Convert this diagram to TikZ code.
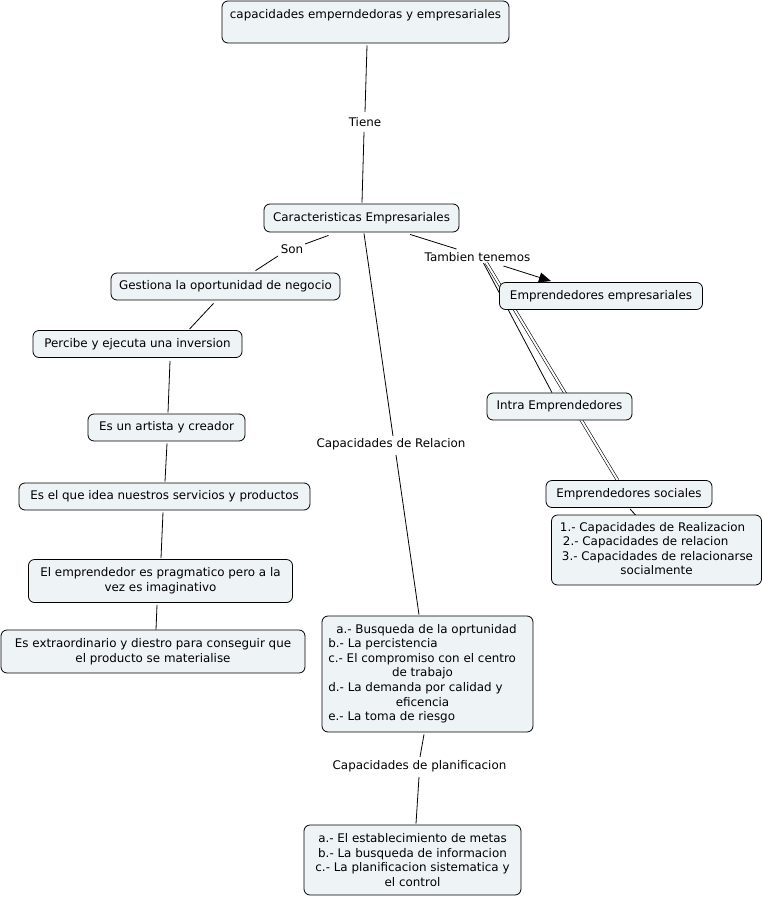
\documentclass[tikz,border=0pt]{standalone}
\usepackage{fontspec}
\setmainfont{DejaVu Sans}
\usetikzlibrary{calc,arrows.meta,backgrounds}
\definecolor{boxfill}{RGB}{238,243,246}
\tikzset{
  box/.style={draw=black, line width=0.8pt, fill=boxfill, rounded corners=6pt, inner sep=0pt, align=center,
     font=\fontsize{11.9}{14.6}\selectfont},
  lbl/.style={inner sep=0pt, font=\fontsize{11.9}{14.6}\selectfont},
  conn/.style={draw=black, line width=0.8pt},
  dbl/.style={draw=black, line width=0.6pt, double=white, double distance=2pt},
  arr/.style={conn, -{Triangle[length=12pt,width=10pt]}}
}
\begin{document}
\begin{tikzpicture}[x=1pt,y=-1pt]
\useasboundingbox (0,0) rectangle (763,897);
% boxes
\node[box, minimum width=287, minimum height=42] (top) at (365.5,22) {\strut capacidades emperndedoras y empresariales\\[-2pt] \strut};
\node[box, minimum width=195, minimum height=28] (caract) at (361.5,218) {Caracteristicas Empresariales};
\node[box, minimum width=229, minimum height=27] (gest) at (225.5,286.5) {Gestiona la oportunidad de negocio};
\node[box, minimum width=209, minimum height=27] (perc) at (137.5,344) {Percibe y ejecuta una inversion};
\node[box, minimum width=157, minimum height=27] (art) at (166.5,427.5) {Es un artista y creador};
\node[box, minimum width=291, minimum height=27] (idea) at (164.5,496.5) {Es el que idea nuestros servicios y productos};
\node[box, minimum width=264, minimum height=43] (emp) at (160.5,581) {El emprendedor es pragmatico pero a la\\vez es imaginativo};
\node[box, minimum width=304, minimum height=43] (extra) at (153,651.5) {Es extraordinario y diestro para conseguir que\\el producto se materialise};
\node[box, minimum width=211, minimum height=116] (busq) at (427.5,674) {%
  \begin{tabular}{@{}l@{}}
  \hspace{8pt}a.- Busqueda de la oprtunidad\\
  b.- La percistencia\\
  c.- El compromiso con el centro\\
  \multicolumn{1}{@{}c@{}}{de trabajo}\\
  d.- La demanda por calidad y\\
  \multicolumn{1}{@{}c@{}}{eficencia}\\
  e.- La toma de riesgo
  \end{tabular}\hspace*{10pt}};
\node[box, minimum width=217, minimum height=70] (metas) at (412.5,860) {a.- El establecimiento de metas\\b.- La busqueda de informacion\\c.- La planificacion sistematica y\\el control};
\node[box, minimum width=203, minimum height=27] (empemp) at (601,296) {Emprendedores empresariales};
\node[box, minimum width=145, minimum height=27] (intra) at (559.5,406.5) {Intra Emprendedores};
\node[box, minimum width=166, minimum height=27] (soc) at (629,494) {Emprendedores sociales};
\node[box, minimum width=210, minimum height=70] (list) at (656.5,550) {%
  \begin{tabular}{@{}l@{}}
  1.- Capacidades de Realizacion\\
  \hspace{3pt}2.- Capacidades de relacion\\
  \hspace{2pt}3.- Capacidades de relacionarse\\
  \multicolumn{1}{@{}c@{}}{socialmente}
  \end{tabular}};
% labels
\node[lbl] (tiene) at (365,122) {Tiene};
\node[lbl] (son) at (292,249.5) {Son};
\node[lbl] (tamb) at (477.5,257) {Tambien tenemos};
\node[lbl] (caprel) at (391,444) {Capacidades de Relacion};
\node[lbl] (capplan) at (419.5,766) {Capacidades de planificacion};
% connectors
\begin{pgfonlayer}{background}
\draw[conn] ($(top.south)+(1.5,2)$) -- ($(tiene)+(0,-10)$);
\draw[conn] ($(tiene)+(-1,10)$) -- ($(caract.north)+(0.5,-1)$);
\draw[conn] ($(caract.south)+(-33,3)$) -- ($(son)+(13,-5.5)$);
\draw[conn] ($(son)+(-14,6.5)$) -- ($(gest.north)+(30,-2)$);
\draw[conn] ($(gest.south)+(-12,3)$) -- ($(perc.north)+(52,-1)$);
\draw[conn] ($(perc.south)+(32.5,3)$) -- ($(art.north)+(1.5,-1)$);
\draw[conn] ($(art.south)+(0.5,2)$) -- ($(idea.north)+(0.5,-1)$);
\draw[conn] ($(idea.south)+(-1.5,2)$) -- ($(emp.north)+(0.5,-1)$);
\draw[conn] ($(emp.south)+(-3.5,2)$) -- ($(extra.north)+(3,0)$);
\draw[conn] ($(caract.south)+(2.5,1)$) -- ($(caprel)+(2,-8)$);
\draw[conn] ($(caprel)+(5,11)$) -- ($(busq.north)+(-8.5,-1)$);
\draw[conn] ($(busq.south)+(-3.5,2)$) -- ($(capplan)+(0.5,-9)$);
\draw[conn] ($(capplan)+(-0.5,11)$) -- ($(metas.north)+(3.5,-1)$);
\draw[conn] ($(caract.south)+(48.5,2)$) -- ($(tamb)+(-21,-8)$);
\draw[arr] ($(tamb)+(26,9)$) -- ($(empemp.north)+(-50,-1)$);
\draw[conn] ($(tamb)+(6,6)$) -- ($(intra.north)+(-7.5,0)$);
\draw[dbl] ($(tamb)+(9,6)$) -- ($(soc.north)+(-11.5,0)$);
\draw[conn] ($(soc.south)+(1,1)$) -- ($(list.north)+(-20.5,1)$);
\end{pgfonlayer}
\end{tikzpicture}
\end{document}
